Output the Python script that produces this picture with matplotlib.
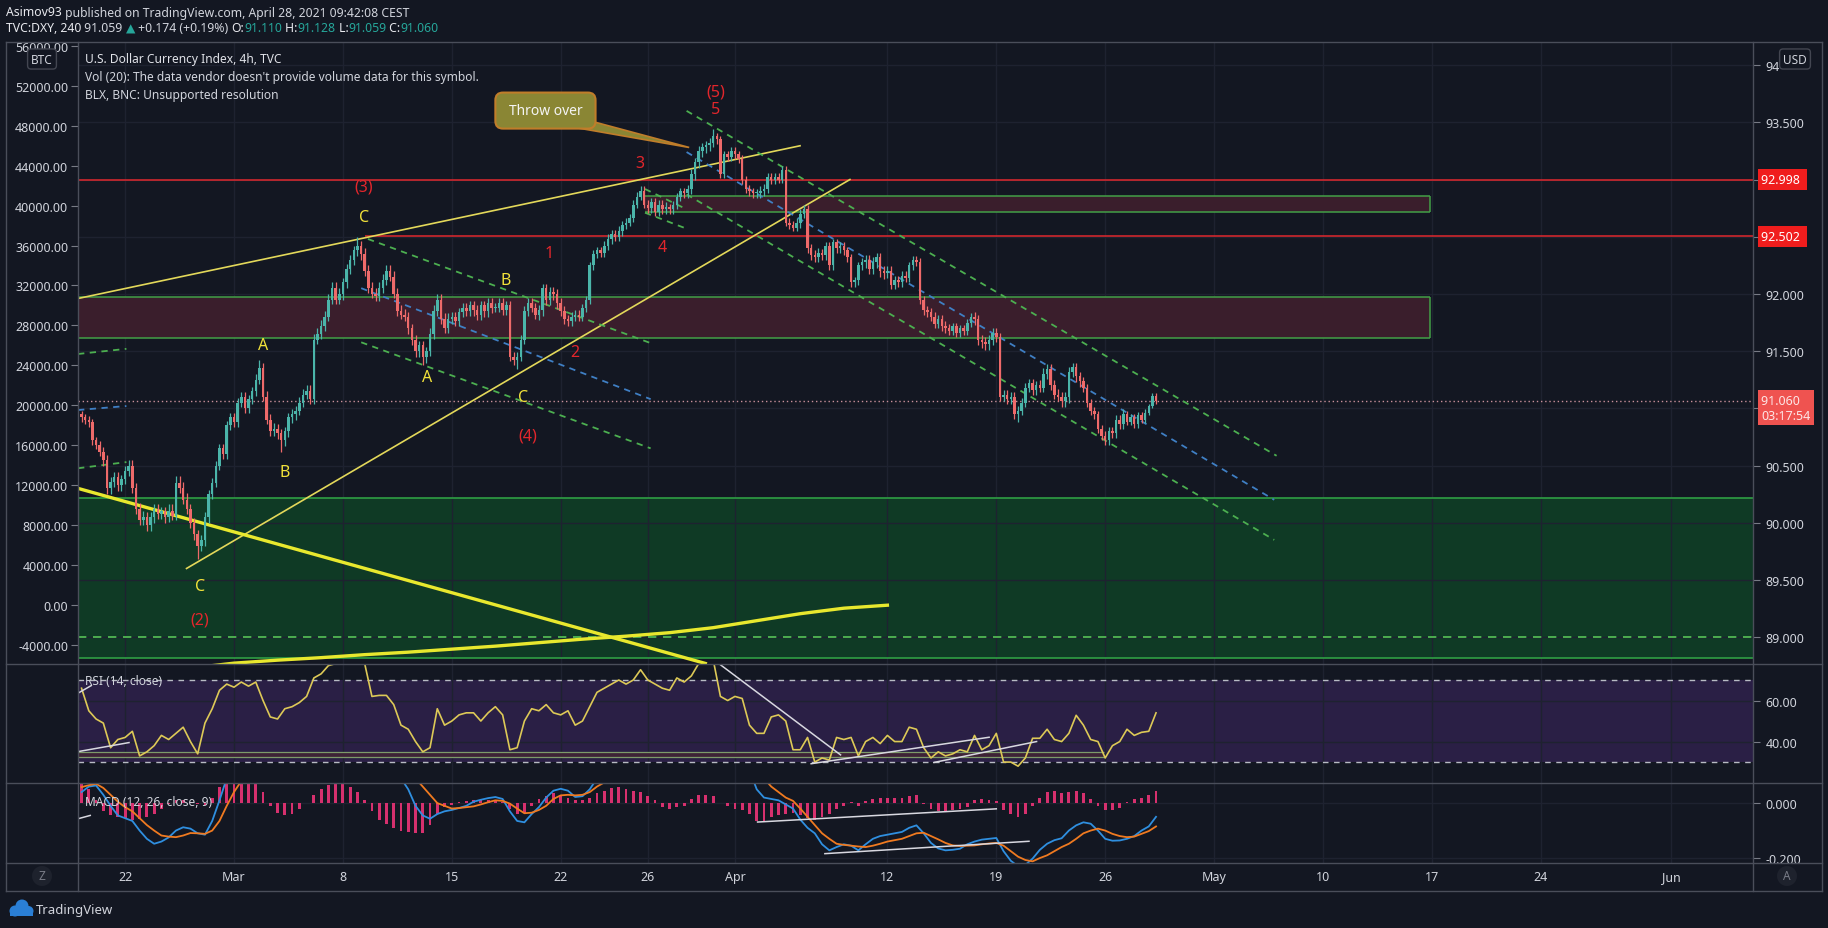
import numpy as np
import matplotlib
matplotlib.use("Agg")
import matplotlib.pyplot as plt
from matplotlib.patches import Rectangle, Polygon, FancyBboxPatch, Circle
from matplotlib.lines import Line2D
from matplotlib.transforms import IdentityTransform
from matplotlib.ticker import FuncFormatter

W, H = 1828, 929
BG = "#131722"
TXT = "#d1d4dc"
GRID = "#1e2230"
plt.rcParams["font.family"] = ["Noto Sans", "DejaVu Sans"]

# ---------------- data ----------------
# 4h closes, 6 bars per trading day, first day = Feb 18 (day -7, Mar 1 = day 0)
first_open = 90.95
closes = [
    90.92, 90.90, 90.88, 90.72, 90.68, 90.62,   # Feb 18
    90.55, 90.30, 90.36, 90.40, 90.33, 90.38,   # Feb 19
    90.45, 90.50, 90.30, 90.12, 90.02, 90.05,   # Feb 22
    89.98, 90.05, 90.12, 90.08, 90.10, 90.05,   # Feb 23
    90.10, 90.06, 90.35, 90.30, 90.20, 90.12,   # Feb 24
    90.00, 89.90, 89.80, 89.85, 90.05, 90.25,   # Feb 25
    90.35, 90.50, 90.65, 90.60, 90.85, 90.92,   # Feb 26
    90.88, 91.05, 91.10, 91.00, 91.08, 91.15,   # Mar 1
    91.25, 91.35, 91.10, 90.90, 90.80, 90.82,   # Mar 2
    90.78, 90.72, 90.80, 90.92, 90.95, 90.98,   # Mar 3
    91.05, 91.12, 91.15, 91.08, 91.60, 91.65,   # Mar 4
    91.72, 91.80, 91.95, 92.05, 91.95, 92.00,   # Mar 5
    92.10, 92.22, 92.30, 92.38, 92.42, 92.35,   # Mar 8
    92.20, 92.05, 92.00, 91.98, 92.05, 92.12,   # Mar 9
    92.20, 92.15, 92.00, 91.85, 91.82, 91.80,   # Mar 10
    91.70, 91.60, 91.50, 91.55, 91.45, 91.50,   # Mar 11
    91.65, 91.85, 91.95, 91.78, 91.70, 91.78,   # Mar 12
    91.80, 91.76, 91.84, 91.88, 91.85, 91.90,   # Mar 15
    91.86, 91.82, 91.90, 91.85, 91.92, 91.88,   # Mar 16
    91.88, 91.92, 91.86, 91.90, 91.45, 91.42,   # Mar 17
    91.45, 91.60, 91.85, 91.92, 91.88, 91.82,   # Mar 18
    91.86, 92.05, 91.95, 92.02, 92.00, 91.92,   # Mar 19
    91.85, 91.78, 91.76, 91.80, 91.82, 91.80,   # Mar 22
    91.88, 91.95, 92.25, 92.35, 92.38, 92.36,   # Mar 23
    92.42, 92.48, 92.52, 92.50, 92.55, 92.60,   # Mar 24
    92.62, 92.66, 92.78, 92.85, 92.90, 92.78,   # Mar 25
    92.75, 92.80, 92.72, 92.78, 92.74, 92.76,   # Mar 26
    92.74, 92.78, 92.85, 92.90, 92.88, 92.92,   # Mar 29
    93.05, 93.15, 93.25, 93.28, 93.30, 93.32,   # Mar 30
    93.38, 93.35, 93.05, 93.22, 93.20, 93.25,   # Mar 31
    93.22, 93.18, 93.00, 92.92, 92.90, 92.88,   # Apr 1
    92.88, 92.90, 92.92, 93.02, 93.00, 93.02,   # Apr 2
    93.00, 93.08, 92.62, 92.60, 92.58, 92.62,   # Apr 5
    92.70, 92.74, 92.40, 92.34, 92.32, 92.36,   # Apr 6
    92.34, 92.42, 92.25, 92.45, 92.40, 92.42,   # Apr 7
    92.38, 92.32, 92.10, 92.12, 92.25, 92.28,   # Apr 8
    92.30, 92.22, 92.28, 92.32, 92.20, 92.18,   # Apr 9
    92.20, 92.08, 92.12, 92.10, 92.16, 92.14,   # Apr 12
    92.25, 92.30, 92.28, 91.95, 91.86, 91.84,   # Apr 13
    91.80, 91.74, 91.78, 91.72, 91.70, 91.68,   # Apr 14
    91.72, 91.66, 91.70, 91.68, 91.75, 91.80,   # Apr 15
    91.78, 91.60, 91.58, 91.56, 91.60, 91.66,   # Apr 16
    91.62, 91.10, 91.12, 91.08, 91.10, 90.95,   # Apr 19
    90.98, 91.05, 91.18, 91.22, 91.16, 91.20,   # Apr 20
    91.18, 91.30, 91.34, 91.20, 91.12, 91.10,   # Apr 21
    91.06, 91.10, 91.32, 91.36, 91.28, 91.24,   # Apr 22
    91.18, 91.05, 90.98, 90.95, 90.82, 90.76,   # Apr 23
    90.72, 90.80, 90.78, 90.90, 90.86, 90.95,   # Apr 26
    90.88, 90.92, 90.86, 90.94, 90.90, 90.96,   # Apr 27
    91.02, 91.11, 91.06,                        # Apr 28
]
# typical wick length per trading day (upper / lower)
wick_up = [0.03, 0.04, 0.05, 0.04, 0.06, 0.04, 0.04, 0.04, 0.05, 0.04,
           0.05, 0.05, 0.04, 0.05, 0.05, 0.04, 0.05, 0.04, 0.04, 0.04,
           0.04, 0.04, 0.04, 0.03, 0.04, 0.04, 0.04, 0.03, 0.04, 0.03,
           0.03, 0.04, 0.04, 0.04, 0.03, 0.03, 0.04, 0.04, 0.03, 0.04,
           0.03, 0.04, 0.04, 0.04, 0.05, 0.04, 0.03, 0.04, 0.03, 0.02]
wick_dn = [0.04, 0.05, 0.04, 0.05, 0.04, 0.05, 0.04, 0.04, 0.04, 0.05,
           0.04, 0.04, 0.05, 0.04, 0.04, 0.05, 0.04, 0.04, 0.05, 0.04,
           0.04, 0.05, 0.04, 0.04, 0.04, 0.03, 0.04, 0.04, 0.05, 0.04,
           0.04, 0.04, 0.03, 0.04, 0.04, 0.04, 0.05, 0.04, 0.04, 0.04,
           0.04, 0.05, 0.04, 0.04, 0.04, 0.05, 0.04, 0.04, 0.03, 0.02]
marked_highs = {49: 91.42, 76: 92.50, 174: 93.44}
marked_lows = {32: 89.68, 55: 90.62, 94: 91.38, 120: 91.34, 258: 90.88, 282: 90.68}

# indicators, 3 readings per trading day from Feb 18
rsi = [66, 55, 51, 49, 37, 41, 42, 45, 33, 35, 38, 43, 41, 44, 47, 40, 34, 49,
       56, 65, 68, 66.5, 69, 67, 69, 60, 52, 51, 56, 57, 59, 62, 71, 73, 77, 78,
       80, 82, 84, 78, 62, 62.5, 62.5, 58, 48, 46, 40, 35, 37, 56, 48, 50, 53, 54,
       54, 50, 54, 57, 53, 36, 37, 50, 56, 55, 58, 54, 53, 55, 48, 50, 57, 64,
       66, 68, 70, 68, 70, 75, 70, 68, 66, 65, 71, 69, 72, 78, 82, 80, 62, 60,
       62, 61, 48, 44, 44, 52, 53, 50, 36, 36, 42, 30, 32, 31, 42, 41, 42, 33,
       40, 42, 39, 43, 40, 40, 47, 46, 37, 32, 35, 33, 34, 36, 35, 43, 36, 38,
       44, 30, 30, 28, 32, 41.6, 41.6, 46, 41, 40, 44, 52.8, 48, 41, 40, 32, 38, 40,
       46, 43, 44.5, 45, 54]
macd = [0.04, 0.06, 0.064, 0.03, -0.01, -0.045, -0.055, -0.065, -0.1,
        -0.13, -0.148, -0.14, -0.125, -0.1, -0.088, -0.093, -0.11, -0.115,
        -0.065, 0.01, 0.09, 0.13, 0.16, 0.19, 0.2, 0.19, 0.17, 0.15, 0.14, 0.14,
        0.15, 0.16, 0.19, 0.22, 0.25, 0.28, 0.3, 0.32, 0.33, 0.3, 0.26, 0.22,
        0.18, 0.14, 0.09, 0.05, -0.01, -0.045, -0.057, -0.04, -0.03,
        -0.025, -0.018, -0.01, 0.005, 0.012, 0.018, 0.022, 0.015, -0.03,
        -0.065, -0.07, -0.04, -0.015, 0.02, 0.045, 0.052, 0.045, 0.022,
        0.025, 0.05, 0.09, 0.12, 0.15, 0.17, 0.19, 0.2, 0.22, 0.21, 0.2, 0.19,
        0.19, 0.2, 0.21, 0.23, 0.26, 0.28, 0.29, 0.27, 0.25, 0.23, 0.19, 0.12,
        0.05, 0.02, 0.015, 0.01, -0.005, -0.02, -0.06, -0.09, -0.11,
        -0.15, -0.172, -0.16, -0.15, -0.155, -0.172, -0.15, -0.13, -0.12,
        -0.115, -0.11, -0.105, -0.09, -0.081, -0.11, -0.145, -0.165, -0.172,
        -0.17, -0.166, -0.15, -0.14, -0.133, -0.13, -0.127, -0.175, -0.21,
        -0.23, -0.225, -0.202, -0.17, -0.148, -0.135, -0.128, -0.1, -0.081,
        -0.07, -0.075, -0.1, -0.13, -0.137, -0.136, -0.13, -0.12, -0.1,
        -0.085, -0.05]
signal = [0.058, 0.065, 0.07, 0.055, 0.03, 0.005, -0.015, -0.03, -0.055,
          -0.08, -0.1, -0.118, -0.122, -0.124, -0.118, -0.109, -0.11, -0.112,
          -0.1, -0.065, -0.01, 0.04, 0.08, 0.11, 0.14, 0.16, 0.165, 0.165, 0.16, 0.155,
          0.155, 0.16, 0.17, 0.19, 0.21, 0.23, 0.25, 0.27, 0.29, 0.3, 0.29, 0.27,
          0.245, 0.21, 0.17, 0.13, 0.09, 0.06, 0.03, 0.0, -0.01,
          -0.02, -0.018, -0.015, -0.012, -0.005, 0.003, 0.01, 0.008, -0.002,
          -0.02, -0.037, -0.035, -0.025, -0.01, 0.015, 0.028, 0.03, 0.028,
          0.03, 0.04, 0.06, 0.075, 0.1, 0.12, 0.14, 0.16, 0.18, 0.19, 0.195, 0.195,
          0.195, 0.195, 0.2, 0.205, 0.215, 0.23, 0.245, 0.255, 0.255, 0.25, 0.235, 0.21,
          0.15, 0.09, 0.06, 0.04, 0.02, 0.008, -0.02, -0.05, -0.08,
          -0.11, -0.13, -0.148, -0.152, -0.155, -0.158, -0.16, -0.155, -0.148,
          -0.14, -0.135, -0.13, -0.12, -0.11, -0.108, -0.12, -0.132, -0.145,
          -0.154, -0.156, -0.155, -0.154, -0.15, -0.147, -0.145, -0.155, -0.175,
          -0.195, -0.207, -0.212, -0.2, -0.19, -0.175, -0.16, -0.148, -0.13,
          -0.11, -0.1, -0.093, -0.1, -0.112, -0.12, -0.124, -0.122, -0.112,
          -0.102, -0.085]
hist = [0.07, 0.05, 0.01, -0.03, -0.045, -0.05, -0.055, -0.06, -0.058,
        -0.05, -0.04, -0.02, -0.005, 0.01, 0.01, 0.005, -0.005, -0.008,
        0.02, 0.06, 0.09, 0.1, 0.1, 0.09, 0.08, 0.04, -0.01, -0.035, -0.045, -0.04,
        -0.02, 0.0, 0.03, 0.05, 0.065, 0.075, 0.07, 0.06, 0.04, 0.01, -0.03, -0.06,
        -0.075, -0.09, -0.1, -0.105, -0.11, -0.11, -0.08, -0.04, -0.015,
        -0.008, 0.003, 0.008, 0.012, 0.01, 0.012, 0.01, 0.005, -0.02,
        -0.04, -0.035, -0.01, 0.015, 0.025, 0.035, 0.03, 0.02, 0.01,
        0.01, 0.02, 0.035, 0.045, 0.055, 0.058, 0.05, 0.045, 0.04, 0.025, 0.01, -0.015,
        -0.02, -0.015, -0.01, 0.015, 0.03, 0.03, 0.025, 0.0, -0.01, -0.02, -0.025, -0.04,
        -0.065, -0.07, -0.05, -0.045, -0.04, -0.035, -0.045, -0.055, -0.06,
        -0.05, -0.04, -0.02, -0.01, 0.005, -0.01, 0.008, 0.015, 0.02,
        0.02, 0.018, 0.02, 0.025, 0.028, -0.005, -0.02, -0.028, -0.03,
        -0.025, -0.02, -0.015, 0.012, 0.015, 0.012, 0.008, -0.025, -0.04,
        -0.05, -0.04, -0.01, 0.02, 0.04, 0.045, 0.035, 0.04, 0.045,
        0.035, 0.015, -0.01, -0.025, -0.025, -0.018, 0.005, 0.015, 0.02,
        0.03, 0.045]

# BTC overlay curve (left scale)
btc_days = [-1, 0, 2, 4, 6, 8, 10, 12, 14, 16, 18, 20, 22, 24, 26, 28, 30]
btc_vals = [-6050, -5800, -5500, -5250, -4950, -4700, -4400, -4100, -3750,
            -3400, -3100, -2750, -2250, -1550, -850, -300, 0]

time_days = [-5, 0, 5, 10, 15, 19, 23, 30, 35, 40, 45, 50, 55, 60, 66]
time_labels = ["22", "Mar", "8", "15", "22", "26", "Apr", "12", "19", "26", "May", "10", "17", "24", "Jun"]
price_ticks = [89.0, 89.5, 90.0, 90.5, 91.0, 91.5, 92.0, 92.5, 93.0, 93.5, 94.0]
hidden_price_labels = [91.0, 92.5, 93.0]   # covered by the price tags
btc_ticks = list(range(-4000, 56001, 4000))
last_price = 91.060
res_levels = [92.998, 92.502]

# ---------------- layout ----------------
fig = plt.figure(figsize=(W / 100, H / 100), dpi=100, facecolor=BG)
L, R = 78, 1753
T_MAIN, B_MAIN, B_RSI, B_MACD, B_TIME = 43, 665, 784, 864, 892
PXD, X0 = 21.78, 234
XLIM = ((L - X0) / PXD, (R - X0) / PXD)
YMAIN = (88.765, 94.202)
BTC_K, BTC_P0 = 11450.0, 89.279


def fp(px, py):
    return px / W, 1 - py / H


def add_ax(top, bottom):
    a = fig.add_axes([L / W, 1 - bottom / H, (R - L) / W, (bottom - top) / H])
    a.set_facecolor(BG)
    for s in a.spines.values():
        s.set_visible(False)
    a.set_xlim(*XLIM)
    a.set_xticks(time_days)
    a.grid(True, color=GRID, lw=1)
    a.set_axisbelow(True)
    return a


ax = add_ax(T_MAIN, B_MAIN)
ax_rsi = add_ax(B_MAIN, B_RSI)
ax_macd = add_ax(B_RSI, B_MACD)

ax_btc = ax.twinx()
for s in ax_btc.spines.values():
    s.set_visible(False)
ax_btc.set_ylim(BTC_K * (YMAIN[0] - BTC_P0), BTC_K * (YMAIN[1] - BTC_P0))
ax_btc.yaxis.tick_left()
ax_btc.set_yticks(btc_ticks)
ax_btc.yaxis.set_major_formatter(FuncFormatter(lambda v, p: f"{v:.2f}"))
ax_btc.tick_params(axis="y", direction="out", length=5, color="#787b86",
                   labelcolor=TXT, labelsize=9, pad=2)
ax_btc.set_xlim(*XLIM)


def price_fmt(v, p):
    if any(abs(v - h) < 1e-6 for h in hidden_price_labels):
        return ""
    if v >= 94.0:
        return "94"          # the rest of this label sits under the USD badge
    return f"{v:.3f}"


for a, ticks, fmtr in ((ax, price_ticks, FuncFormatter(price_fmt)),
                       (ax_rsi, [40, 60], FuncFormatter(lambda v, p: f"{v:.2f}")),
                       (ax_macd, [-0.2, 0.0], FuncFormatter(lambda v, p: f"{v:.3f}"))):
    a.yaxis.tick_right()
    a.set_yticks(ticks)
    a.yaxis.set_major_formatter(fmtr)
    a.tick_params(axis="y", direction="out", length=5, color="#787b86",
                  labelcolor=TXT, labelsize=9, pad=4)
ax.set_ylim(*YMAIN)
ax_rsi.set_ylim(19.8, 77.8)
ax_macd.set_ylim(-0.218, 0.073)
ax.tick_params(axis="x", length=0, labelbottom=False)
ax_rsi.tick_params(axis="x", length=0, labelbottom=False)
ax_macd.tick_params(axis="x", length=0, labelcolor=TXT, labelsize=9, pad=5)
ax_macd.set_xticklabels(time_labels)
for t, lab in zip(ax_macd.get_xticklabels(), time_labels):
    if not lab.isdigit():
        t.set_fontweight("bold")

# ---------------- main pane drawings ----------------
GREEN = "#43a047"
MAROON = "#3a1e2c"
RIGHT_EDGE = XLIM[1]
# green support zone
ax.add_patch(Rectangle((XLIM[0], 88.82), RIGHT_EDGE - XLIM[0], 90.22 - 88.82,
                       facecolor="#0f3a25", edgecolor="none", zorder=0.5))
ax.hlines([90.22, 88.82], XLIM[0], RIGHT_EDGE, colors="#2f9e44", lw=1.2, zorder=1)
ax.hlines(89.003, XLIM[0], RIGHT_EDGE, colors="#56c456", lw=1.2, linestyles=(0, (5, 4)), zorder=1)
# maroon zones
for (x0, x1, y0, y1) in ((XLIM[0], 54.93, 91.612, 91.97), (18.87, 54.93, 92.713, 92.853)):
    ax.add_patch(Rectangle((x0, y0), x1 - x0, y1 - y0, facecolor=MAROON, edgecolor="none", zorder=0.6))
    ax.hlines([y0, y1], x0, x1, colors=GREEN, lw=1.1, zorder=1)
    ax.vlines([x1], y0, y1, colors=GREEN, lw=1.1, zorder=1)
# red horizontal levels
ax.hlines(res_levels[0], XLIM[0], RIGHT_EDGE, colors="#e0282e", lw=1.1, zorder=2)
ax.hlines(res_levels[1], 6.0, RIGHT_EDGE, colors="#e0282e", lw=1.1, zorder=2)
# last price dotted line
ax.axhline(last_price, color="#c9909a", lw=1, ls=(0, (1, 2)), zorder=2)

# trend lines (yellow)
YEL = "#e3d85a"
ax.plot([-7.16, 25.99], [91.96, 93.295], color=YEL, lw=1.2, zorder=3)
ax.plot([-2.18, 28.28], [89.60, 93.00], color=YEL, lw=1.2, zorder=3)
ax.plot([-7.16, 21.64], [90.30, 88.77], color="#e8e82e", lw=2.4, zorder=3)

# dashed channels
DG, DB = "#4caf50", "#3f7fc4"
dash = (0, (3.5, 3))
chan = [
    ((6.15, 19.13), (92.48, 91.57), DG),
    ((5.84, 19.13), (92.05, 91.08), DB),
    ((5.84, 19.13), (91.577, 90.65), DG),
    ((-7.16, -4.94), (91.475, 91.52), DG),
    ((-7.16, -4.94), (90.985, 91.02), DB),
    ((-7.16, -4.94), (90.476, 90.53), DG),
    ((20.78, 47.87), (93.60, 90.585), DG),
    ((20.78, 47.76), (93.24, 90.20), DB),
    ((20.78, 47.76), (92.87, 89.85), DG),
    ((18.87, 20.78), (92.917, 92.74), DG),
    ((18.87, 20.78), (92.71, 92.57), DG),
]
for xs, ys, c in chan:
    ax.plot(xs, ys, color=c, lw=1.3, ls=dash, zorder=3)

# candles
n = len(closes)
bx = -7 + np.arange(n) / 6.0
c_arr = np.array(closes)
o_arr = np.array([first_open] + closes[:-1])
hi = np.maximum(o_arr, c_arr) + np.array([wick_up[min(i // 6, 49)] for i in range(n)])
lo = np.minimum(o_arr, c_arr) - np.array([wick_dn[min(i // 6, 49)] for i in range(n)])
for k, v in marked_highs.items():
    hi[k] = v
for k, v in marked_lows.items():
    lo[k] = v
up = c_arr >= o_arr
cols = np.where(up, "#4bb5aa", "#ee6a6a")
ax.vlines(bx, lo, hi, colors=cols, lw=0.9, zorder=5)
ax.bar(bx, np.maximum(np.abs(c_arr - o_arr), 0.007), bottom=np.minimum(o_arr, c_arr),
       width=0.115, color=cols, linewidth=0, zorder=6)

# BTC overlay curve
ax_btc.plot(btc_days, btc_vals, color="#e8e82e", lw=2.4, zorder=3)

# wave labels
YL, RD = "#f2e23a", "#e3262c"
wave_labels = [
    ("C", 5.96, 92.673, YL), ("A", 1.35, 91.55, YL), ("B", 2.32, 90.44, YL),
    ("C", -1.54, 89.45, YL), ("B", 12.49, 92.12, YL), ("A", 8.85, 91.27, YL),
    ("C", 13.29, 91.10, YL),
    ("(3)", 5.96, 92.94, RD), ("(2)", -1.59, 89.15, RD), ("(4)", 13.5, 90.76, RD),
    ("1", 14.47, 92.36, RD), ("2", 15.65, 91.49, RD), ("3", 18.64, 93.14, RD),
    ("4", 19.66, 92.41, RD), ("(5)", 22.12, 93.77, RD), ("5", 22.12, 93.615, RD),
]
for s, xd, yd, c in wave_labels:
    ax.text(xd, yd, s, color=c, fontsize=11.5, fontweight="semibold",
            ha="center", va="center", zorder=8)

# "Throw over" callout
ax.add_patch(Polygon([(15.8, 93.45), (16.6, 93.50), (20.9, 93.28)], closed=True,
                     facecolor="#8a8634", edgecolor="#c07d2a", lw=1.2, zorder=7))
ax.add_patch(FancyBboxPatch((12.0, 93.445), 4.6, 0.315,
                            boxstyle="round,pad=0,rounding_size=0.35", mutation_aspect=0.19,
                            facecolor="#8a8634", edgecolor="#c07d2a", lw=1.5, zorder=7.5))
ax.text(14.3, 93.6, "Throw over", color="#f4f4f4", fontsize=10, ha="center", va="center", zorder=8)


# right-scale price tags
def tag(a, y, s, fc, tc="white"):
    a.text(1.0050, y, s, transform=a.get_yaxis_transform(), ha="left", va="center",
           fontsize=9, color=tc, clip_on=False, zorder=10,
           bbox=dict(boxstyle="square,pad=0.3", fc=fc, ec="none"))


tag(ax, res_levels[0], "92.998 ", "#f01d1d")
tag(ax, res_levels[1], "92.502 ", "#f01d1d")
tag(ax, 91.007, "91.060  \n03:17:54", "#ef5350", "#fde6e6")

# ---------------- RSI pane ----------------
ix = -7 + np.arange(len(rsi)) / 3.0
ax_rsi.add_patch(Rectangle((XLIM[0], 30), XLIM[1] - XLIM[0], 40, facecolor="#2a1f45",
                           edgecolor="none", zorder=0.4))
ax_rsi.add_patch(Rectangle((XLIM[0], 32.4), 39.95 - XLIM[0], 2.7, facecolor="#3e2236",
                           edgecolor="none", zorder=0.6))
ax_rsi.hlines([32.4, 35.1], XLIM[0], 39.95, colors="#7d9a6a", lw=0.9, zorder=1)
ax_rsi.axhline(70, color="#b8bbc4", lw=1, ls=(0, (4, 4)), zorder=1)
ax_rsi.axhline(30, color="#b8bbc4", lw=1, ls=(0, (4, 4)), zorder=1)
ax_rsi.plot(ix, rsi, color="#ddc957", lw=1.2, zorder=4)
for xs, ys in (((22.3, 27.85), (77.7, 33.5)), ((26.5, 34.67), (29.2, 42.1)),
               ((32.13, 36.85), (29.8, 40.0)), ((-7.16, -4.82), (35.1, 39.5)),
               ((-7.16, -6.55), (63.6, 67.3))):
    ax_rsi.plot(xs, ys, color="#d8d8e0", lw=1.1, zorder=5)

# ---------------- MACD pane ----------------
ax_macd.bar(ix, hist, width=0.13, color="#d6306e", linewidth=0, zorder=2)
ax_macd.plot(ix, macd, color="#2f8fe0", lw=1.3, zorder=4)
ax_macd.plot(ix, signal, color="#f07a20", lw=1.3, zorder=4)
for xs, ys in (((24.04, 35.0), (-0.069, -0.021)), ((27.13, 36.5), (-0.184, -0.139)),
               ((-7.16, -6.6), (-0.057, -0.045))):
    ax_macd.plot(xs, ys, color="#d8d8e0", lw=1.1, zorder=5)

# ---------------- frame / separators ----------------
# cover scale labels that would spill above the pane top
fig.add_artist(Rectangle((6, H - T_MAIN), L - 6, 8, transform=IdentityTransform(),
                         facecolor=BG, edgecolor="none", zorder=1))
FR = "#4a4e5a"
for yy in (T_MAIN, B_MAIN, B_RSI, B_MACD, B_TIME):
    fig.add_artist(Line2D([6 / W, 1822 / W], [1 - yy / H, 1 - yy / H], color=FR, lw=1, zorder=2))
for xx in (6, L, R, 1822):
    fig.add_artist(Line2D([xx / W, xx / W], [1 - T_MAIN / H, 1 - B_TIME / H], color=FR, lw=1, zorder=2))

# ---------------- texts ----------------
renderer = fig.canvas.get_renderer()


def seq_text(x_px, y_px, parts, size):
    x = x_px
    for s, col, wt in parts:
        t = fig.text(x / W, 1 - y_px / H, s, color=col, fontsize=size, fontweight=wt,
                     ha="left", va="center")
        x += t.get_window_extent(renderer=renderer).width


TEAL = "#26a69a"
seq_text(6, 13, [("Asimov93", "#e8e9ee", "bold"),
                 (" published on TradingView.com, April 28, 2021 09:42:08 CEST", TXT, "normal")], 8.8)
seq_text(6, 29, [("TVC:DXY, 240", "#e8e9ee", "bold"), (" 91.059 ", TXT, "normal"),
                 ("\u25B2", TEAL, "normal"), (" +0.174 (+0.19%) ", TXT, "normal"),
                 ("O:", "#e8e9ee", "bold"), ("91.110", TEAL, "normal"),
                 (" H:", "#e8e9ee", "bold"), ("91.128", TEAL, "normal"),
                 (" L:", "#e8e9ee", "bold"), ("91.059", TEAL, "normal"),
                 (" C:", "#e8e9ee", "bold"), ("91.060", TEAL, "normal")], 8.8)

fig.text(*fp(85, 59), "U.S. Dollar Currency Index, 4h, TVC", color="#e0e2e8", fontsize=8.6,
         ha="left", va="center")
fig.text(*fp(85, 77), "Vol (20): The data vendor doesn't provide volume data for this symbol.",
         color=TXT, fontsize=8.6, ha="left", va="center")
fig.text(*fp(85, 95), "BLX, BNC: Unsupported resolution", color=TXT, fontsize=8.6,
         ha="left", va="center")
fig.text(*fp(85, 682), "RSI (14, close)", color=TXT, fontsize=8.6, ha="left", va="center")
fig.text(*fp(85, 803), "MACD (12, 26, close, 9)", color=TXT, fontsize=8.6, ha="left", va="center")

box = dict(boxstyle="round,pad=0.3", fc=BG, ec="#434651", lw=1)
fig.text(*fp(42, 60), "BTC", color=TXT, fontsize=8.5, ha="center", va="center", bbox=box, zorder=20)
fig.text(*fp(1795, 60), "USD", color=TXT, fontsize=8.5, ha="center", va="center", bbox=box, zorder=20)

# scale buttons
for cx, s in ((42, "Z"), (1787, "A")):
    fig.add_artist(Circle((cx, H - 877), 10, transform=IdentityTransform(),
                          facecolor="#1e222d", edgecolor="none"))
    fig.text(*fp(cx, 877), s, color="#787b86", fontsize=8.5, ha="center", va="center")

# TradingView logo
for (cx, cy, r) in ((15, 912, 5.5), (22, 907, 6.5), (28.5, 912, 5)):
    fig.add_artist(Circle((cx, H - cy), r, transform=IdentityTransform(),
                          facecolor="#2a7fd6", edgecolor="none"))
fig.add_artist(Rectangle((10, H - 917), 23, 6, transform=IdentityTransform(),
                         facecolor="#2a7fd6", edgecolor="none"))
fig.text(*fp(36, 911), "TradingView", color=TXT, fontsize=9.5, ha="left", va="center")

fig.savefig("out.png", dpi=100, facecolor=BG)
